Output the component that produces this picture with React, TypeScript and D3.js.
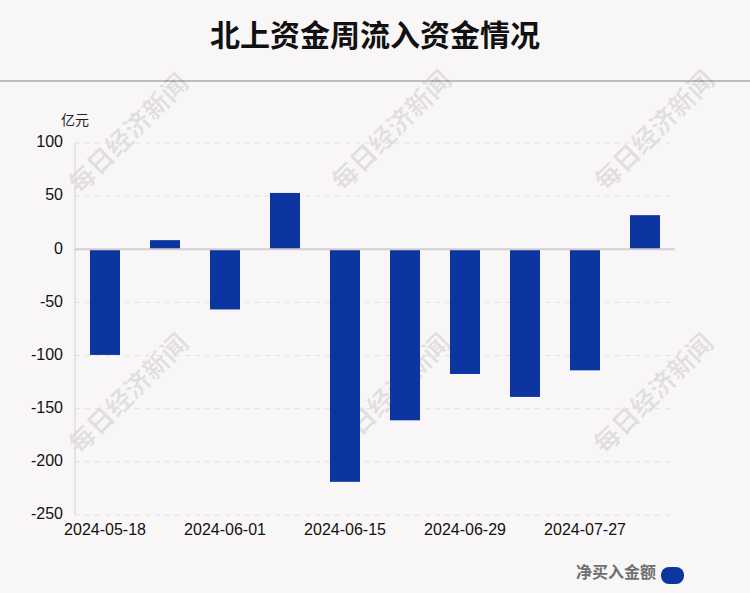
import React from "react";
import * as d3 from "d3";

const categories = [
  "2024-05-18",
  "2024-05-25",
  "2024-06-01",
  "2024-06-08",
  "2024-06-15",
  "2024-06-22",
  "2024-06-29",
  "2024-07-20",
  "2024-07-27",
  "2024-08-03",
];
const netBuy = [-99.4, 8.6, -56.6, 53, -218.8, -160.9, -117.3, -138.9, -113.9, 32.1];
const shownLabels = ["2024-05-18", "2024-06-01", "2024-06-15", "2024-06-29", "2024-07-27"];
const yTicks = [100, 50, 0, -50, -100, -150, -200, -250];
const watermarkSpots: [number, number][] = [
  [130, 135],
  [393, 132],
  [656, 132],
  [130, 395],
  [392, 395],
  [655, 395],
];

const W = 750;
const H = 593;
const margin = { top: 143, right: 75, bottom: 78, left: 75 };
const BAR = "#0c35a0";
const cjk = "'Noto Sans CJK SC', 'Liberation Sans', sans-serif";
const latin = "'Liberation Sans', Arial, sans-serif";

export default function App() {
  const x = d3
    .scaleBand<string>()
    .domain(categories)
    .range([margin.left, W - margin.right])
    .paddingInner(0.5)
    .paddingOuter(0.25);
  const y = d3
    .scaleLinear()
    .domain([-250, 100])
    .range([H - margin.bottom, margin.top]);

  return (
    <svg
      width={W}
      height={H}
      viewBox={`0 0 ${W} ${H}`}
      style={{ position: "absolute", left: 0, top: 0, background: "#f9f6f7" }}
    >
      <rect width={W} height={H} fill="#f9f6f7" />
      <text
        x={W / 2}
        y={38}
        textAnchor="middle"
        dominantBaseline="middle"
        fontFamily={cjk}
        fontWeight="bold"
        fontSize={30}
        fill="#111"
      >
        北上资金周流入资金情况
      </text>
      <line x1={0} x2={W} y1={81} y2={81} stroke="#bdbdbd" strokeWidth={2} />

      {/* watermarks */}
      {watermarkSpots.map(([cx, cy], i) => (
        <text
          key={i}
          transform={`translate(${cx},${cy}) rotate(-45)`}
          textAnchor="middle"
          dominantBaseline="middle"
          fontFamily={cjk}
          fontWeight="bold"
          fontSize={26}
          fill="#000"
          fillOpacity={0.09}
        >
          每日经济新闻
        </text>
      ))}

      {/* grid */}
      {yTicks
        .filter((t) => t !== 0)
        .map((t) => (
          <line
            key={t}
            x1={margin.left}
            x2={W - margin.right}
            y1={y(t)}
            y2={y(t)}
            stroke="#e2e0e1"
            strokeDasharray="5,5"
          />
        ))}
      <line
        x1={margin.left}
        x2={margin.left}
        y1={margin.top}
        y2={H - margin.bottom}
        stroke="#d4d2d3"
      />

      {/* y ticks */}
      {yTicks.map((t) => (
        <text
          key={t}
          x={63}
          y={y(t)}
          textAnchor="end"
          dominantBaseline="middle"
          fontFamily={latin}
          fontSize={16}
          fill="#111"
        >
          {t}
        </text>
      ))}
      <text x={61} y={125} fontFamily={cjk} fontSize={14} fill="#222">
        亿元
      </text>

      {/* bars */}
      {categories.map((c, i) => {
        const v = netBuy[i];
        return (
          <rect
            key={c}
            x={x(c)}
            width={x.bandwidth()}
            y={y(Math.max(0, v))}
            height={Math.abs(y(v) - y(0))}
            fill={BAR}
          />
        );
      })}
      <line
        x1={margin.left}
        x2={W - margin.right}
        y1={y(0)}
        y2={y(0)}
        stroke="#d0cecf"
        strokeWidth={2}
      />

      {/* x labels */}
      {shownLabels.map((c) => (
        <text
          key={c}
          x={(x(c) ?? 0) + x.bandwidth() / 2}
          y={531}
          textAnchor="middle"
          dominantBaseline="middle"
          fontFamily={latin}
          fontSize={16}
          fill="#111"
        >
          {c}
        </text>
      ))}

      {/* legend */}
      <text
        x={656}
        y={574}
        textAnchor="end"
        dominantBaseline="middle"
        fontFamily={cjk}
        fontWeight="bold"
        fontSize={16}
        fill="#707070"
      >
        净买入金额
      </text>
      <rect x={661} y={567} width={23} height={17} rx={8} fill={BAR} />
    </svg>
  );
}
